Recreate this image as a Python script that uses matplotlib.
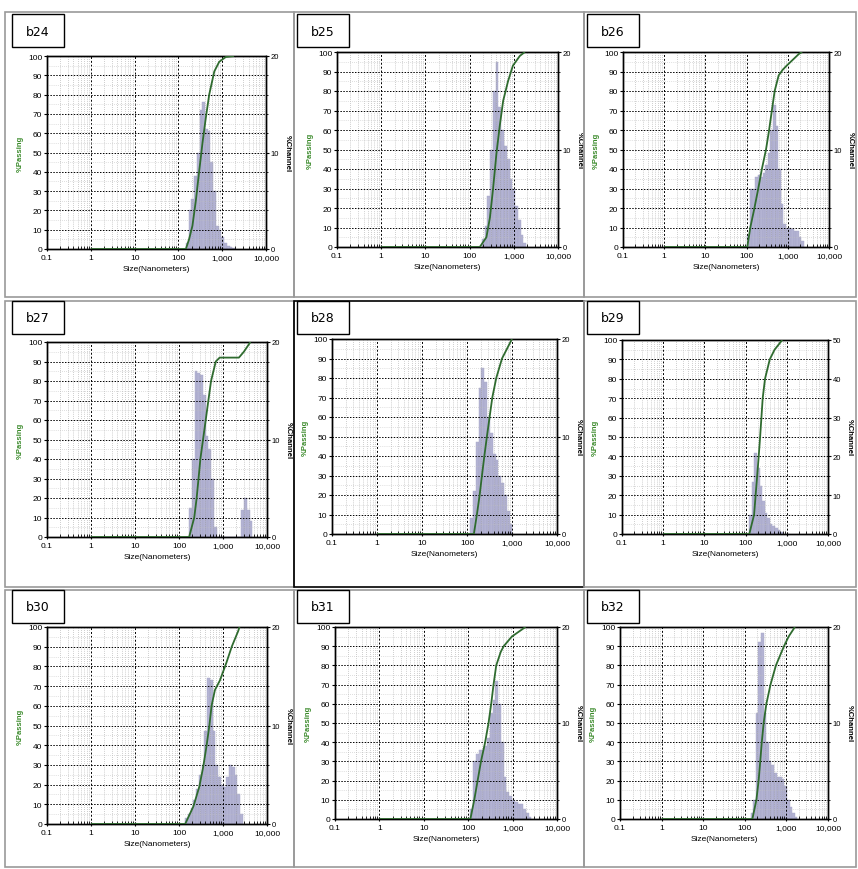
import numpy as np
import matplotlib
matplotlib.use('Agg')
import matplotlib.pyplot as plt
from matplotlib.patches import Rectangle
from matplotlib.ticker import FixedLocator, NullFormatter, MultipleLocator

plt.rcParams['font.family'] = ['Liberation Sans Narrow', 'Liberation Sans', 'DejaVu Sans']

W, H = 858, 870

# ── Data ─────────────────────────────────────────────────────────────────────
PANELS = ['b24', 'b25', 'b26', 'b27', 'b28', 'b29', 'b30', 'b31', 'b32']
CH_MAX = [20, 20, 20, 20, 20, 50, 20, 20, 20]
X_TICKS = [0.1, 1, 10, 100, 1000, 10000]
X_LABELS = ['0.1', '1', '10', '100', '1,000', '10,000']

# %Channel histograms : lower edge of first channel (nm), 16 channels / decade
CH_START = [148, 190, 104, 170, 118, 123, 138, 112, 138]
CH_B24 = [0.6, 4.0, 5.2, 7.6, 10.0, 14.4, 15.2, 12.4, 12.2, 9.0, 6.0, 2.4, 2.0,
          1.2, 0.6, 0.3, 0.2, 0.1]
CH_B25 = [0.8, 2.2, 5.2, 10.0, 16.0, 19.0, 14.4, 12.0, 10.4, 9.0, 7.0, 6.0, 4.2,
          2.8, 1.2, 0.4]
CH_B26 = [1.2, 6.0, 6.0, 7.2, 7.4, 7.2, 7.6, 8.4, 9.6, 12.0, 14.6, 12.4, 8.0,
          4.4, 2.4, 2.0, 2.0, 1.8, 1.6, 1.6, 1.0, 0.6]
CH_B27 = [3.0, 8.0, 17.0, 16.8, 16.6, 14.6, 10.4, 9.0, 6.0, 1.0, 0, 0, 0, 0, 0,
          0, 0, 0, 0, 2.8, 4.0, 2.8, 1.6]
CH_B28 = [1.6, 4.4, 9.4, 15.0, 17.0, 15.6, 12.0, 10.4, 8.2, 7.6, 6.0, 5.2, 4.0,
          2.4, 1.0]
CH_B29 = [5.0, 13.5, 21.0, 17.0, 12.5, 8.5, 5.5, 4.0, 2.5, 2.0, 1.5, 1.0, 0.5]
CH_B30 = [0.6, 1.0, 1.6, 2.4, 3.6, 5.0, 6.0, 9.4, 14.8, 14.6, 9.4, 6.0, 4.8,
          4.0, 3.8, 4.8, 6.0, 5.8, 5.0, 3.0, 1.0]
CH_B31 = [1.0, 6.0, 6.8, 7.2, 7.2, 7.6, 8.4, 11.0, 12.4, 14.4, 12.0, 8.0, 4.4,
          2.8, 2.4, 2.0, 1.8, 1.6, 1.6, 1.0, 0.6, 0.2]
CH_B32 = [0.6, 2.0, 11.0, 18.4, 19.4, 11.0, 8.0, 6.0, 5.6, 4.8, 4.4, 4.4, 4.2,
          3.4, 2.0, 1.2, 0.6, 0.2]
CHANNELS = [CH_B24, CH_B25, CH_B26, CH_B27, CH_B28, CH_B29, CH_B30, CH_B31, CH_B32]

# %Passing curves (size nm, %)
PS_B24 = [1, 148, 175, 209, 250, 297, 355, 423, 505, 660, 855, 1210, 1860]
PP_B24 = [0, 0, 5, 12, 25, 40, 55, 68, 80, 92, 97, 99.5, 100]
PS_B25 = [1, 170, 240, 288, 340, 405, 480, 575, 740, 955, 1370, 1780]
PP_B25 = [0, 0, 5, 15, 30, 48, 62, 75, 85, 93, 98, 100]
PS_B26 = [1, 104, 123, 155, 192, 235, 296, 352, 410, 480, 600, 760, 940, 1320, 1860, 2230]
PP_B26 = [0, 0, 10, 20, 30, 40, 50, 60, 70, 80, 88, 91, 93, 96, 99, 100]
PS_B27 = [1, 170, 222, 252, 278, 306, 352, 405, 465, 535, 685, 840, 2300, 2980, 4200]
PP_B27 = [0, 0, 10, 20, 30, 40, 50, 60, 70, 80, 90, 92, 92, 95, 100]
PS_B28 = [1, 142, 166, 191, 215, 243, 277, 318, 365, 447, 600, 775, 1000]
PP_B28 = [0, 0, 10, 20, 30, 40, 50, 60, 70, 80, 90, 95, 100]
PS_B29 = [1, 123, 161, 175, 191, 208, 225, 242, 260, 296, 386, 505, 775]
PP_B29 = [0, 0, 10, 20, 30, 40, 50, 60, 70, 80, 90, 95, 100]
PS_B30 = [1, 138, 213, 290, 355, 425, 490, 550, 655, 855, 1200, 1580, 2220, 2370]
PP_B30 = [0, 0, 9, 19, 29, 40, 50, 60, 68, 73, 82, 90, 98, 100]
PS_B31 = [1, 112, 137, 163, 194, 241, 287, 330, 372, 428, 540, 630, 960, 1950]
PP_B31 = [0, 0, 10, 20, 30, 40, 50, 60, 70, 80, 87, 90, 95, 100]
PS_B32 = [1, 152, 190, 215, 235, 256, 284, 330, 415, 560, 875, 1130, 1600]
PP_B32 = [0, 0, 10, 20, 30, 40, 50, 60, 70, 80, 90, 95, 100]
PASS_SIZE = [PS_B24, PS_B25, PS_B26, PS_B27, PS_B28, PS_B29, PS_B30, PS_B31, PS_B32]
PASS_PCT = [PP_B24, PP_B25, PP_B26, PP_B27, PP_B28, PP_B29, PP_B30, PP_B31, PP_B32]

# ── Layout (pixels) ──────────────────────────────────────────────────────────
AX_PX = [(47, 57, 266, 250), (337, 53, 558, 248), (623, 53, 829, 248),
         (47, 343, 267, 538), (332, 340, 557, 535), (622, 341, 828, 535),
         (47, 628, 267, 825), (335, 628, 557, 820), (620, 628, 828, 820)]
COL_X = [(5, 294), (294, 584), (584, 856)]
ROW_Y = [(13, 298), (302, 588), (591, 868)]
BOX_X = [12, 297, 587]
BOX_Y = [15, 302, 591]

BAR_COLOR = '#b3b3d3'
CURVE_COLOR = '#2f6b2f'


def fx(x):
    return x / W


def fy(y):
    return 1 - y / H


fig = plt.figure(figsize=(W / 100, H / 100), dpi=100)
fig.patch.set_facecolor('white')

# panel frames and label boxes
for i, name in enumerate(PANELS):
    r, c = divmod(i, 3)
    x0, x1 = COL_X[c]
    y0, y1 = ROW_Y[r]
    edge = 'black' if i == 4 else '#9a9a9a'
    fig.add_artist(Rectangle((fx(x0), fy(y1)), fx(x1 - x0), (y1 - y0) / H,
                             transform=fig.transFigure, fill=False,
                             edgecolor=edge, linewidth=1.2))
    bx, by = BOX_X[c], BOX_Y[r]
    fig.add_artist(Rectangle((fx(bx), fy(by + 33)), fx(52), 33 / H,
                             transform=fig.transFigure, facecolor='white',
                             edgecolor='black', linewidth=1.0, zorder=5))
    fig.text(fx(bx + 26), fy(by + 17), name, ha='center', va='center',
             fontsize=9, family=['DejaVu Sans'], zorder=6)

r_ch = 10 ** (1 / 16)

for i, name in enumerate(PANELS):
    x0, y0, x1, y1 = AX_PX[i]
    ax = fig.add_axes([fx(x0), fy(y1), fx(x1 - x0), (y1 - y0) / H])
    ax2 = ax.twinx()
    ax.set_zorder(ax2.get_zorder() + 1)
    ax.patch.set_visible(False)

    vals = np.array(CHANNELS[i])
    edges = CH_START[i] * r_ch ** np.arange(len(vals) + 1)
    ax2.bar(edges[:-1], vals, width=np.diff(edges), align='edge',
            color=BAR_COLOR, edgecolor='#a6a6c8', linewidth=0.3)
    ax2.set_ylim(0, CH_MAX[i])
    ax2.yaxis.set_major_locator(MultipleLocator(10))
    ax2.yaxis.set_minor_locator(MultipleLocator(2 if CH_MAX[i] == 20 else 5))
    ax2.tick_params(axis='y', which='major', labelsize=5.5, length=2.5, pad=1)
    ax2.tick_params(axis='y', which='minor', length=1.5)
    ax2.set_ylabel('%Channel', rotation=270, va='bottom', fontsize=5.5,
                   fontweight='bold', labelpad=3)

    ax.plot(PASS_SIZE[i], PASS_PCT[i], color=CURVE_COLOR, linewidth=1.3,
            solid_capstyle='butt', solid_joinstyle='round', zorder=4)

    ax.set_xscale('log')
    ax.set_xlim(0.1, 10000)
    ax.set_ylim(0, 100)
    ax.xaxis.set_major_locator(FixedLocator(X_TICKS))
    ax.set_xticklabels(X_LABELS)
    minors = [m * d for d in X_TICKS[:-1] for m in range(2, 10)]
    ax.xaxis.set_minor_locator(FixedLocator(minors))
    ax.xaxis.set_minor_formatter(NullFormatter())
    ax.yaxis.set_major_locator(MultipleLocator(10))
    ax.yaxis.set_minor_locator(MultipleLocator(5))

    ax.grid(True, which='major', axis='x', color='black', linestyle=(0, (2, 2)),
            linewidth=0.7)
    ax.grid(True, which='major', axis='y', color='black', linestyle=(0, (1.5, 1.5)),
            linewidth=0.7)
    ax.grid(True, which='minor', axis='x', color='#a0a0a0', linestyle=(0, (1, 2)),
            linewidth=0.5)
    ax.grid(True, which='minor', axis='y', color='#c0c0c0', linestyle=(0, (1, 2)),
            linewidth=0.5)

    ax.tick_params(axis='y', which='major', labelsize=6, length=2.5, pad=1)
    ax.tick_params(axis='y', which='minor', length=0)
    ax.tick_params(axis='x', which='major', labelsize=6, length=3,
                   direction='inout', pad=2)
    ax.tick_params(axis='x', which='minor', length=2, direction='in')

    ax.set_ylabel('%Passing', color='#3a8a2a', fontsize=5.5, fontweight='bold',
                  labelpad=3)
    ax.set_xlabel('Size(Nanometers)', fontsize=6, labelpad=3)

    for sp in list(ax.spines.values()) + list(ax2.spines.values()):
        sp.set_linewidth(1.0)
        sp.set_color('black')

plt.savefig('out.png', dpi=100, facecolor='white')
